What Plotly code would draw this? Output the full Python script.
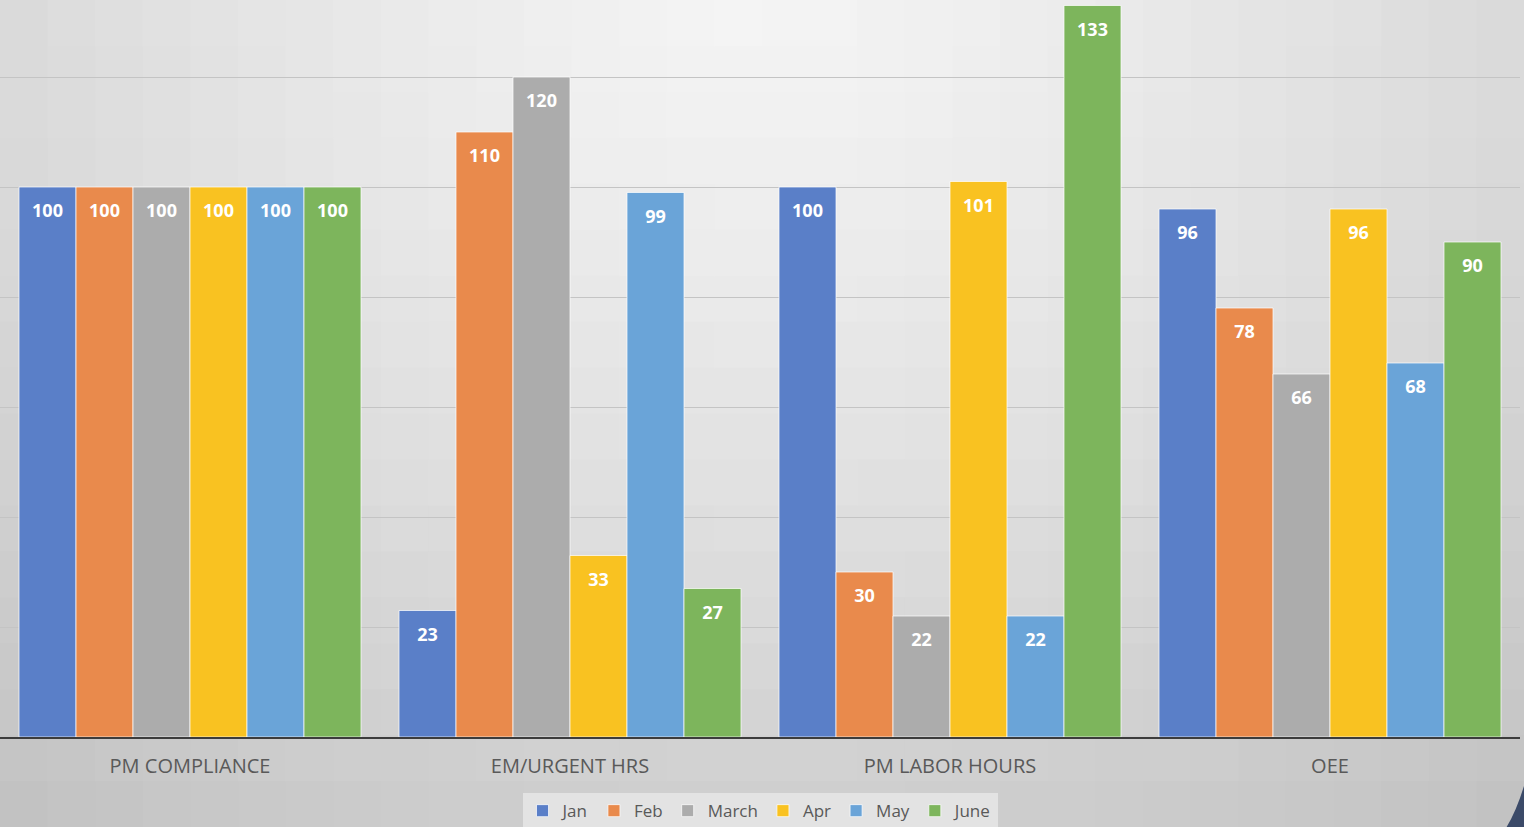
import math
import plotly.graph_objects as go

categories = ["PM COMPLIANCE", "EM/URGENT HRS", "PM LABOR HOURS", "OEE"]
series_names = ["Jan", "Feb", "March", "Apr", "May", "June"]
jan = [100, 23, 100, 96]
feb = [100, 110, 30, 78]
march = [100, 120, 22, 66]
apr = [100, 33, 101, 96]
may = [100, 99, 22, 68]
june = [100, 27, 133, 90]
series_values = [jan, feb, march, apr, may, june]
colors = ["#5a7fc8", "#e98a4c", "#acacac", "#f9c221", "#6aa4d8", "#7db55c"]

W, H = 1524, 827
ML, MR, MT, MB = 0, 4, 0, 90
PW, PH = W - ML - MR, H - MT - MB

fig = go.Figure()
for name, vals, col in zip(series_names, series_values, colors):
    fig.add_trace(go.Bar(
        name=name, x=categories, y=vals,
        marker=dict(color=col, line=dict(color="rgba(255,255,255,0.7)", width=1)),
        texttemplate="<span style='font-size:4px'>&nbsp;</span><br><b>%{y}</b>",
        textposition="inside", insidetextanchor="end",
        textangle=0,
        textfont=dict(color="white", size=18, family="Open Sans"),
        cliponaxis=False,
    ))

# background gradient (styling only)
shapes = []
nx, ny = 32, 18
for i in range(nx):
    for j in range(ny):
        px0 = i * W / nx
        px1 = (i + 1) * W / nx
        py0 = j * H / ny
        py1 = (j + 1) * H / ny
        cx, cy = (px0 + px1) / 2, (py0 + py1) / 2
        d = math.sqrt(((cx - 760) / 1000) ** 2 + (cy / 820) ** 2)
        L = int(round(244 - 38 * d ** 1.3))
        L = max(190, min(246, L))
        shapes.append(dict(
            type="rect", xref="paper", yref="paper", layer="below",
            x0=(px0 - ML) / PW, x1=(px1 + 1 - ML) / PW,
            y0=(H - MB - py1 - 1) / PH, y1=(H - MB - py0) / PH,
            fillcolor=f"rgb({L},{L},{L})", line=dict(width=0),
        ))
# dark corner curve bottom right
shapes.append(dict(
    type="path", xref="paper", yref="paper", layer="above",
    path=f"M {1524/PW} {(737-786)/PH} Q {1516/PW} {(737-812)/PH} {1506/PW} {(737-828)/PH} L {1526/PW} {(737-828)/PH} Z",
    fillcolor="#3b4a68", line=dict(width=0),
))

fig.update_layout(
    width=W, height=H,
    margin=dict(l=ML, r=MR, t=MT, b=MB),
    paper_bgcolor="#d8d8d8",
    plot_bgcolor="rgba(0,0,0,0)",
    barmode="group", bargap=0.1, bargroupgap=0,
    font=dict(family="Open Sans", color="#595959"),
    shapes=shapes,
    showlegend=True,
    legend=dict(
        orientation="h", x=0.5, xanchor="center",
        yref="container", y=0.041, yanchor="top",
        bgcolor="#e3e3e3", borderwidth=0,
        font=dict(size=17, color="#595959"),
        itemwidth=30, tracegroupgap=0,
    ),
    xaxis=dict(
        showgrid=False, showline=True, linecolor="#3c3c3c", linewidth=2,
        tickfont=dict(size=20, color="#595959"), ticks="",
        ticklabelstandoff=10,
    ),
    yaxis=dict(
        range=[0, 134], dtick=20, showgrid=True, gridcolor="#c4c4c4", gridwidth=1,
        showticklabels=False, zeroline=False, showline=False,
    ),
)

fig.write_html("out.html")
